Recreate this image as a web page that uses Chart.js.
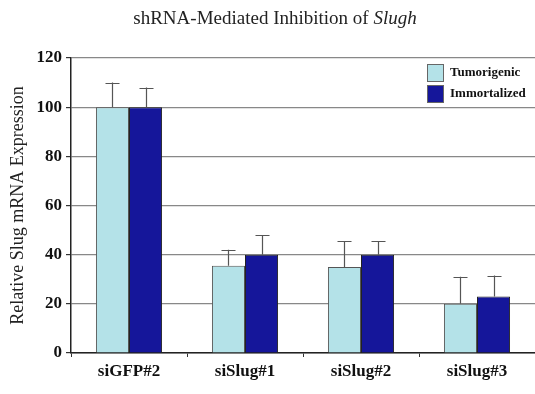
<!DOCTYPE html>
<html>
<head>
<meta charset="utf-8">
<script src="https://cdn.jsdelivr.net/npm/chart.js@4/dist/chart.umd.min.js"></script>
<style>
  html, body { margin: 0; padding: 0; background: #fff; }
  #wrap { width: 535px; height: 394px; position: relative; }
</style>
</head>
<body>
<div id="wrap"><canvas id="c" width="535" height="394"></canvas></div>
<script>
// Relative Slug mRNA expression after shRNA knockdown
const categories = ['siGFP#2', 'siSlug#1', 'siSlug#2', 'siSlug#3'];
const seriesNames = ['Tumorigenic', 'Immortalized'];
const tumorigenic = [100, 35.5, 35, 20];
const tumorigenicErr = [10, 6.5, 10.5, 11];
const immortalized = [100, 40, 40, 23];
const immortalizedErr = [8, 8, 5.5, 8.5];
const yTicks = [0, 20, 40, 60, 80, 100, 120];

const SERIF = '"Liberation Serif", "Times New Roman", serif';
const COLORS = ['#b4e2e8', '#15169a'];

// Upper error whiskers (value + error) drawn from the bar scale
const errorBars = {
  id: 'errorBars',
  afterDatasetsDraw(chart) {
    const ctx = chart.ctx;
    const y = chart.scales.y;
    ctx.save();
    ctx.strokeStyle = '#555';
    ctx.lineWidth = 1.2;
    chart.data.datasets.forEach((ds, di) => {
      const meta = chart.getDatasetMeta(di);
      meta.data.forEach((bar, i) => {
        const top = y.getPixelForValue(ds.data[i] + ds.errors[i]);
        const base = y.getPixelForValue(ds.data[i]);
        const x = Math.round(bar.x) + 0.5;
        ctx.beginPath();
        ctx.moveTo(x, base);
        ctx.lineTo(x, top);
        ctx.moveTo(x - 7, Math.round(top) + 0.5);
        ctx.lineTo(x + 7, Math.round(top) + 0.5);
        ctx.stroke();
      });
    });
    ctx.restore();
  }
};

// Title with the gene name set in italics
const mixedTitle = {
  id: 'mixedTitle',
  afterDraw(chart) {
    const ctx = chart.ctx;
    const a = 'shRNA-Mediated Inhibition of ';
    const b = 'Slugh';
    ctx.save();
    ctx.fillStyle = '#222';
    ctx.textBaseline = 'alphabetic';
    ctx.font = '19px ' + SERIF;
    const wa = ctx.measureText(a).width;
    ctx.font = 'italic 19px ' + SERIF;
    const wb = ctx.measureText(b).width;
    const x0 = 275 - (wa + wb) / 2;
    ctx.font = '19px ' + SERIF;
    ctx.fillText(a, x0, 24);
    ctx.font = 'italic 19px ' + SERIF;
    ctx.fillText(b, x0 + wa, 24);
    ctx.restore();
  }
};

// Legend in the upper right of the plot
const cornerLegend = {
  id: 'cornerLegend',
  afterDraw(chart) {
    const ctx = chart.ctx;
    ctx.save();
    ctx.font = 'bold 13px ' + SERIF;
    ctx.textBaseline = 'middle';
    chart.data.datasets.forEach((ds, i) => {
      const top = 64 + i * 21;
      ctx.fillStyle = ds.backgroundColor;
      ctx.fillRect(427, top, 16, 17);
      ctx.strokeStyle = '#666';
      ctx.lineWidth = 1;
      ctx.strokeRect(427.5, top + 0.5, 16, 17);
      ctx.fillStyle = '#111';
      ctx.fillText(ds.label, 450, top + 9);
    });
    ctx.restore();
  }
};

new Chart(document.getElementById('c'), {
  type: 'bar',
  data: {
    labels: categories,
    datasets: [
      { label: seriesNames[0], data: tumorigenic, errors: tumorigenicErr,
        backgroundColor: COLORS[0], borderColor: '#555', borderWidth: 1 },
      { label: seriesNames[1], data: immortalized, errors: immortalizedErr,
        backgroundColor: COLORS[1], borderColor: '#222', borderWidth: 1 }
    ]
  },
  options: {
    responsive: false,
    animation: false,
    events: [],
    layout: { padding: { top: 58, right: 0, left: 0, bottom: 0 } },
    datasets: { bar: { categoryPercentage: 0.57, barPercentage: 1.0 } },
    plugins: {
      legend: { display: false },
      title: { display: false },
      tooltip: { enabled: false }
    },
    scales: {
      x: {
        grid: { display: true, drawOnChartArea: false, tickLength: 4, color: '#333', offset: true },
        border: { display: true, color: '#222', width: 1.5 },
        ticks: { font: { family: SERIF, size: 17, weight: 'bold' }, color: '#111', padding: 4 },
        afterFit(s) { s.height = 41; }
      },
      y: {
        min: 0, max: 120,
        afterBuildTicks(s) { s.ticks = yTicks.map(v => ({ value: v })); },
        grid: { color: '#888', lineWidth: 1.2, tickLength: 5, tickColor: '#333' },
        border: { display: true, color: '#222', width: 1.5 },
        ticks: { font: { family: SERIF, size: 17, weight: 'bold' }, color: '#111', padding: 4 },
        title: {
          display: true,
          text: 'Relative Slug mRNA Expression',
          font: { family: SERIF, size: 18 },
          color: '#222',
          padding: { top: 7, bottom: 0 }
        },
        afterFit(s) { s.width = 71; }
      }
    }
  },
  plugins: [errorBars, mixedTitle, cornerLegend]
});
</script>
</body>
</html>
